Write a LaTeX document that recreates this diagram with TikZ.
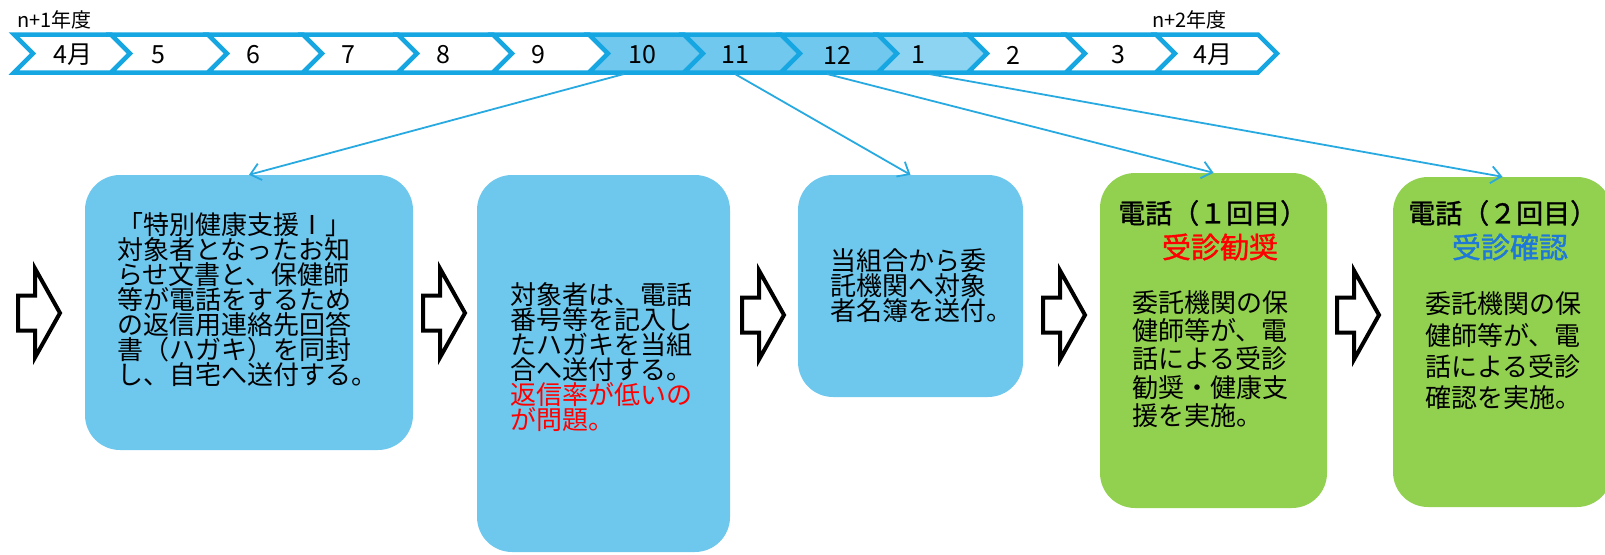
\documentclass[tikz,border=0pt]{standalone}
\usepackage{fontspec}
\setmainfont{Noto Sans CJK JP}
\newfontfamily\jpbold[FakeBold=1.2]{Noto Sans CJK JP}
\usetikzlibrary{arrows.meta}
\definecolor{tlblue}{RGB}{22,166,226}
\definecolor{hlfill}{RGB}{112,200,238}
\definecolor{hlfillb}{RGB}{140,212,242}
\definecolor{boxblue}{RGB}{110,200,238}
\definecolor{boxgreen}{RGB}{146,208,80}
\definecolor{lineblue}{RGB}{40,170,225}
\definecolor{txtred}{RGB}{255,0,0}
\definecolor{txtblue}{RGB}{30,120,215}
\begin{document}
\begin{tikzpicture}[x=1pt,y=-1pt,
  chev/.style={draw=tlblue,line width=4.5pt,line join=miter},
  monthlbl/.style={font=\fontsize{25}{25}\selectfont,inner sep=0pt},
  yearlbl/.style={font=\fontsize{20}{20}\selectfont,inner sep=0pt,anchor=west},
  stepbox/.style={rounded corners=35pt,inner sep=0pt},
  bluebox/.style={stepbox,fill=boxblue},
  greenbox/.style={stepbox,fill=boxgreen},
  bodytxt/.style={font=\fontsize{26}{25}\selectfont,align=left,inner sep=0pt,anchor=west},
  conn/.style={draw=lineblue,line width=1.8pt,-{Straight Barb[length=10pt,width=17pt,line width=1.8pt]}},
  blockarrow/.pic={\draw[line width=4pt,line join=miter,fill=white]
     (0,-17.5) -- (17,-17.5) -- (17,-44.5) -- (42,0) -- (17,44.5) -- (17,17.5) -- (0,17.5) -- cycle;}
]
\useasboundingbox (0,0) rectangle (1605,554);
\clip (0,0) rectangle (1605,554);

% year labels
\node[yearlbl] (y1) at (17,20) {n+1年度};
\node[yearlbl] (y2) at (1152,20) {n+2年度};

% timeline chevrons
\foreach \L/\T/\f in {33/130/white,130/227/white,227/322/white,322/417/white,417/512/white,512/608/white,608/703/hlfill,703/800/hlfill,800/897/hlfill,897/987/hlfillb,987/1085/white,1085/1175/white,1175/1277/white}
  \draw[chev,fill=\f] (\L-19,34.5) -- (\T-19,34.5) -- (\T,53.5) -- (\T-19,72.5) -- (\L-19,72.5) -- (\L,53.5) -- cycle;

\foreach \x/\t [count=\i] in {73/4月,158/5,253/6,348/7,443/8,538/9,642/10,735/11,837/12,918/1,1013/2,1118/3,1213/4月}
  \node[monthlbl] (m\i) at (\x,55) {\t};

% boxes
\node[bluebox,minimum width=328pt,minimum height=275pt] (b1) at (249,312.5) {};
\node[bluebox,minimum width=253pt,minimum height=377pt] (b2) at (603.5,363.5) {};
\node[bluebox,minimum width=225pt,minimum height=222pt] (b3) at (910.5,286) {};
\node[greenbox,minimum width=227pt,minimum height=335pt] (b4) at (1213.5,340.5) {};
\node[greenbox,minimum width=219pt,minimum height=330pt] (b5) at (1502.5,342) {};

% box texts
\node[bodytxt] (t1) at (117,300) {「特別健康支援Ⅰ」\\対象者となったお知\\らせ文書と、保健師\\等が電話をするため\\の返信用連絡先回答\\書（ハガキ）を同封\\し、自宅へ送付する。};
\node[bodytxt] (t2) at (510,357) {対象者は、電話\\番号等を記入し\\たハガキを当組\\合へ送付する。\\\textcolor{txtred}{返信率が低いの}\\\textcolor{txtred}{が問題。}};
\node[bodytxt] (t3) at (830,286) {当組合から委\\託機関へ対象\\者名簿を送付。};

\node[bodytxt,font=\jpbold\fontsize{27}{27}\selectfont] (h4) at (1118,213) {電話（１回目）};
\node[inner sep=0pt,font=\jpbold\fontsize{29}{29}\selectfont,text=txtred] (k4) at (1220,247) {受診勧奨};
\node[bodytxt,font=\fontsize{26}{28.3}\selectfont] (t4) at (1132,359) {委託機関の保\\健師等が、電\\話による受診\\勧奨・健康支\\援を実施。};

\node[bodytxt,font=\jpbold\fontsize{27}{27}\selectfont] (h5) at (1408,213) {電話（２回目）};
\node[inner sep=0pt,font=\jpbold\fontsize{29}{29}\selectfont,text=txtblue] (k5) at (1510,247) {受診確認};
\node[bodytxt,font=\fontsize{26}{31.3}\selectfont] (t5) at (1425,351) {委託機関の保\\健師等が、電\\話による受診\\確認を実施。};

% hollow block arrows
\pic at (18,313) {blockarrow};
\pic at (423,313) {blockarrow};
\pic at (742,315) {blockarrow};
\pic at (1043,315) {blockarrow};
\pic at (1337,315) {blockarrow};

% connectors
\coordinate (s10) at (624,74);
\coordinate (s11) at (735,74);
\coordinate (s12) at (827,74);
\coordinate (s1) at (929,74);
\draw[conn] (s10) -- (b1.north);
\draw[conn] (s11) -- (b3.north);
\draw[conn] (s12) -- (b4.north);
\draw[conn] (s1) -- (b5.north);
\end{tikzpicture}
\end{document}
